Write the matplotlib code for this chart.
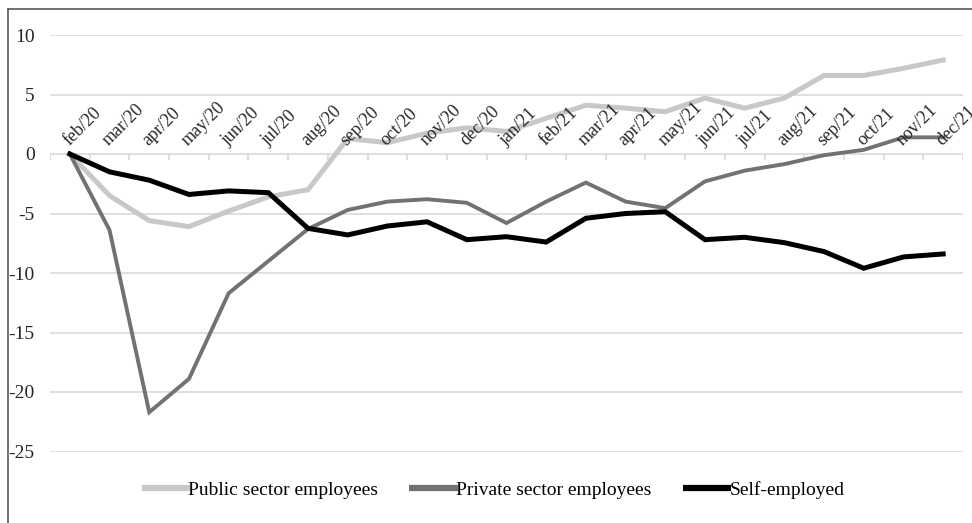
import matplotlib
matplotlib.use("Agg")
import matplotlib.pyplot as plt
from matplotlib.lines import Line2D

plt.rcParams['font.family'] = ['Liberation Serif', 'DejaVu Serif']

months = ["feb/20", "mar/20", "apr/20", "may/20", "jun/20", "jul/20", "aug/20",
          "sep/20", "oct/20", "nov/20", "dec/20", "jan/21", "feb/21", "mar/21",
          "apr/21", "may/21", "jun/21", "jul/21", "aug/21", "sep/21", "oct/21",
          "nov/21", "dec/21"]

public = [0, -3.5, -5.6, -6.1, -4.8, -3.6, -3.0, 1.3, 0.95, 1.75, 2.2, 1.9,
          3.0, 4.1, 3.85, 3.55, 4.7, 3.85, 4.7, 6.6, 6.6, 7.2, 7.9]
private = [0, -6.4, -21.7, -18.9, -11.7, -9.0, -6.3, -4.7, -4.0, -3.8, -4.1, -5.8,
           -4.0, -2.4, -4.0, -4.55, -2.3, -1.4, -0.85, -0.1, 0.35, 1.4, 1.4]
self_emp = [0, -1.5, -2.2, -3.4, -3.1, -3.25, -6.25, -6.8, -6.05, -5.7, -7.2, -6.95,
            -7.4, -5.4, -5.0, -4.85, -7.2, -7.0, -7.45, -8.2, -9.6, -8.65, -8.4]

yticks = [10, 5, 0, -5, -10, -15, -20, -25]

W, H = 972, 523
fig = plt.figure(figsize=(W / 100, H / 100), dpi=100)
ax = fig.add_axes([50 / W, 1 - 451.5 / H, (963 - 50) / W, (451.5 - 35) / H])

x = list(range(len(months)))
grid_col = "#d9d9d9"

# gridlines
for v in yticks:
    ax.axhline(v, color=grid_col, lw=1.2, zorder=0)
# category ticks on the zero line
ax.vlines([i - 0.5 for i in range(len(months) + 1)], -0.5, 0, color=grid_col, lw=1.2, zorder=0)

ax.plot(x, public, color="#c8c8c8", lw=3.6, label="Public sector employees",
        solid_joinstyle="miter", clip_on=False, zorder=3)
ax.plot(x, private, color="#767171", lw=2.8, label="Private sector employees",
        solid_joinstyle="miter", clip_on=False, zorder=3)
ax.plot(x, self_emp, color="black", lw=3.6, label="Self-employed",
        solid_joinstyle="miter", clip_on=False, zorder=4)

# month labels sit above the zero line
for i, m in enumerate(months):
    ax.text(i + 0.05, 0.45, m, rotation=45, ha="left", va="bottom",
            rotation_mode="anchor", fontsize=13, color="#262626", zorder=5)

ax.set_xlim(-0.5, len(months) - 0.5)
ax.set_ylim(-25, 10)
ax.set_xticks([])
ax.set_yticks(yticks)
ax.set_yticklabels([str(v) for v in yticks])
ax.tick_params(axis="y", length=0, pad=11, labelsize=14, labelcolor="#262626")
for s in ax.spines.values():
    s.set_visible(False)

leg = fig.legend(loc="center", bbox_to_anchor=(493 / W, 1 - 490 / H), ncol=3,
                 frameon=False, fontsize=14, handlelength=2.5, handletextpad=-0.1,
                 columnspacing=1.6)
for h in leg.get_lines():
    h.set_linewidth(4.5)
    h.set_solid_capstyle("butt")

# outer frame (top and left edges only)
fig.add_artist(Line2D([8 / W, 1], [1 - 9 / H, 1 - 9 / H], color="#595959", lw=1.2))
fig.add_artist(Line2D([8 / W, 8 / W], [0, 1 - 9 / H], color="#595959", lw=1.2))

fig.savefig("out.png", dpi=100)
